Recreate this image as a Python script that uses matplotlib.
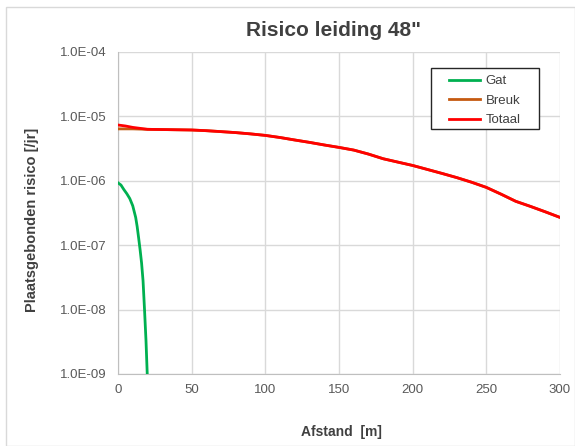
import matplotlib
matplotlib.use("Agg")
import matplotlib.pyplot as plt
from matplotlib.patches import Rectangle
from matplotlib.ticker import FixedLocator, FixedFormatter, NullLocator

# ---- data ----
gat_x = [0, 2, 4, 6, 8, 10, 12, 13, 14, 15, 16, 17, 18, 19, 20]
gat_y = [9.3e-7, 8.6e-7, 7.3e-7, 6.3e-7, 5.3e-7, 4.1e-7, 2.7e-7, 1.95e-7,
         1.3e-7, 8.5e-8, 5.3e-8, 2.8e-8, 1.0e-8, 3.3e-9, 8e-10]

breuk_x = list(range(0, 301, 10))
breuk_y = [6.4e-6, 6.4e-6, 6.3e-6, 6.25e-6, 6.2e-6, 6.15e-6, 6.0e-6, 5.8e-6,
           5.6e-6, 5.35e-6, 5.07e-6, 4.7e-6, 4.3e-6, 3.95e-6, 3.6e-6, 3.3e-6,
           3.0e-6, 2.6e-6, 2.2e-6, 1.95e-6, 1.73e-6, 1.5e-6, 1.3e-6, 1.12e-6,
           0.95e-6, 0.79e-6, 0.62e-6, 0.48e-6, 0.4e-6, 0.33e-6, 0.27e-6]

totaal_x = [0, 5] + list(range(10, 301, 10))
totaal_y = [7.35e-6, 7.1e-6, 6.75e-6, 6.3e-6, 6.25e-6, 6.2e-6, 6.15e-6, 6.0e-6,
            5.8e-6, 5.6e-6, 5.35e-6, 5.07e-6, 4.7e-6, 4.3e-6, 3.95e-6, 3.6e-6,
            3.3e-6, 3.0e-6, 2.6e-6, 2.2e-6, 1.95e-6, 1.73e-6, 1.5e-6, 1.3e-6,
            1.12e-6, 0.95e-6, 0.79e-6, 0.62e-6, 0.48e-6, 0.4e-6, 0.33e-6, 0.27e-6]

y_ticks = [1e-9, 1e-8, 1e-7, 1e-6, 1e-5, 1e-4]
y_labels = ["1.0E-09", "1.0E-08", "1.0E-07", "1.0E-06", "1.0E-05", "1.0E-04"]
x_ticks = [0, 50, 100, 150, 200, 250, 300]

title = 'Risico leiding 48"'
xlabel = "Afstand  [m]"
ylabel = "Plaatsgebonden risico [/jr]"

# ---- figure ----
W, H = 575, 446
plt.rcParams['font.family'] = ['Liberation Sans', 'DejaVu Sans']
fig = plt.figure(figsize=(W / 100, H / 100), dpi=100)
fig.patches.append(Rectangle((6 / W, 0.0), 1 - 6 / W, 1 - 7 / H, transform=fig.transFigure,
                             fill=False, edgecolor='#D9D9D9', linewidth=1.0))

ax = fig.add_axes([118 / W, 1 - 374 / H, (560 - 118) / W, (374 - 52) / H])
ax.set_yscale('log')
ax.set_xlim(0, 300)
ax.set_ylim(1e-9, 1e-4)

ax.plot(gat_x, gat_y, color='#00B050', lw=2, label='Gat', zorder=3)
ax.plot(breuk_x, breuk_y, color='#C55A11', lw=2, label='Breuk', zorder=3)
ax.plot(totaal_x, totaal_y, color='#FF0000', lw=2, label='Totaal', zorder=4)

ax.yaxis.set_major_locator(FixedLocator(y_ticks))
ax.yaxis.set_major_formatter(FixedFormatter(y_labels))
ax.yaxis.set_minor_locator(NullLocator())
ax.set_xticks(x_ticks)
ax.grid(True, color='#D9D9D9', lw=1)
ax.set_axisbelow(True)
for s in ['top', 'right']:
    ax.spines[s].set_visible(False)
for s in ['left', 'bottom']:
    ax.spines[s].set_color('#BFBFBF')
ax.tick_params(axis='both', length=0, colors='#595959', labelsize=9.5)
ax.tick_params(axis='y', pad=8)
ax.tick_params(axis='x', pad=7)

fig.text(333 / W, 1 - 31 / H, title, fontsize=15, fontweight='bold', color='#404040',
         ha='center', va='center')
fig.text(341 / W, 1 - 432 / H, xlabel, fontsize=10, fontweight='bold', color='#404040',
         ha='center', va='center')
fig.text(32 / W, 1 - 220 / H, ylabel, fontsize=10.5, fontweight='bold', color='#404040',
         ha='center', va='center', rotation=90)

# legend box
ax.add_patch(Rectangle((431 / W, 1 - 129 / H), 108 / W, 61 / H, transform=fig.transFigure,
                       facecolor='white', edgecolor='#262626', linewidth=1.0,
                       clip_on=False, zorder=4.5))
leg = ax.legend(loc='upper left', bbox_to_anchor=(449 / W, 1 - 75 / H),
                bbox_transform=fig.transFigure, frameon=False, fontsize=9.5,
                handlelength=2.36, handletextpad=0.4, labelspacing=0.55,
                borderpad=0, borderaxespad=0)
leg.set_zorder(6)
for t in leg.get_texts():
    t.set_color('#404040')

fig.savefig('out.png', dpi=100)
